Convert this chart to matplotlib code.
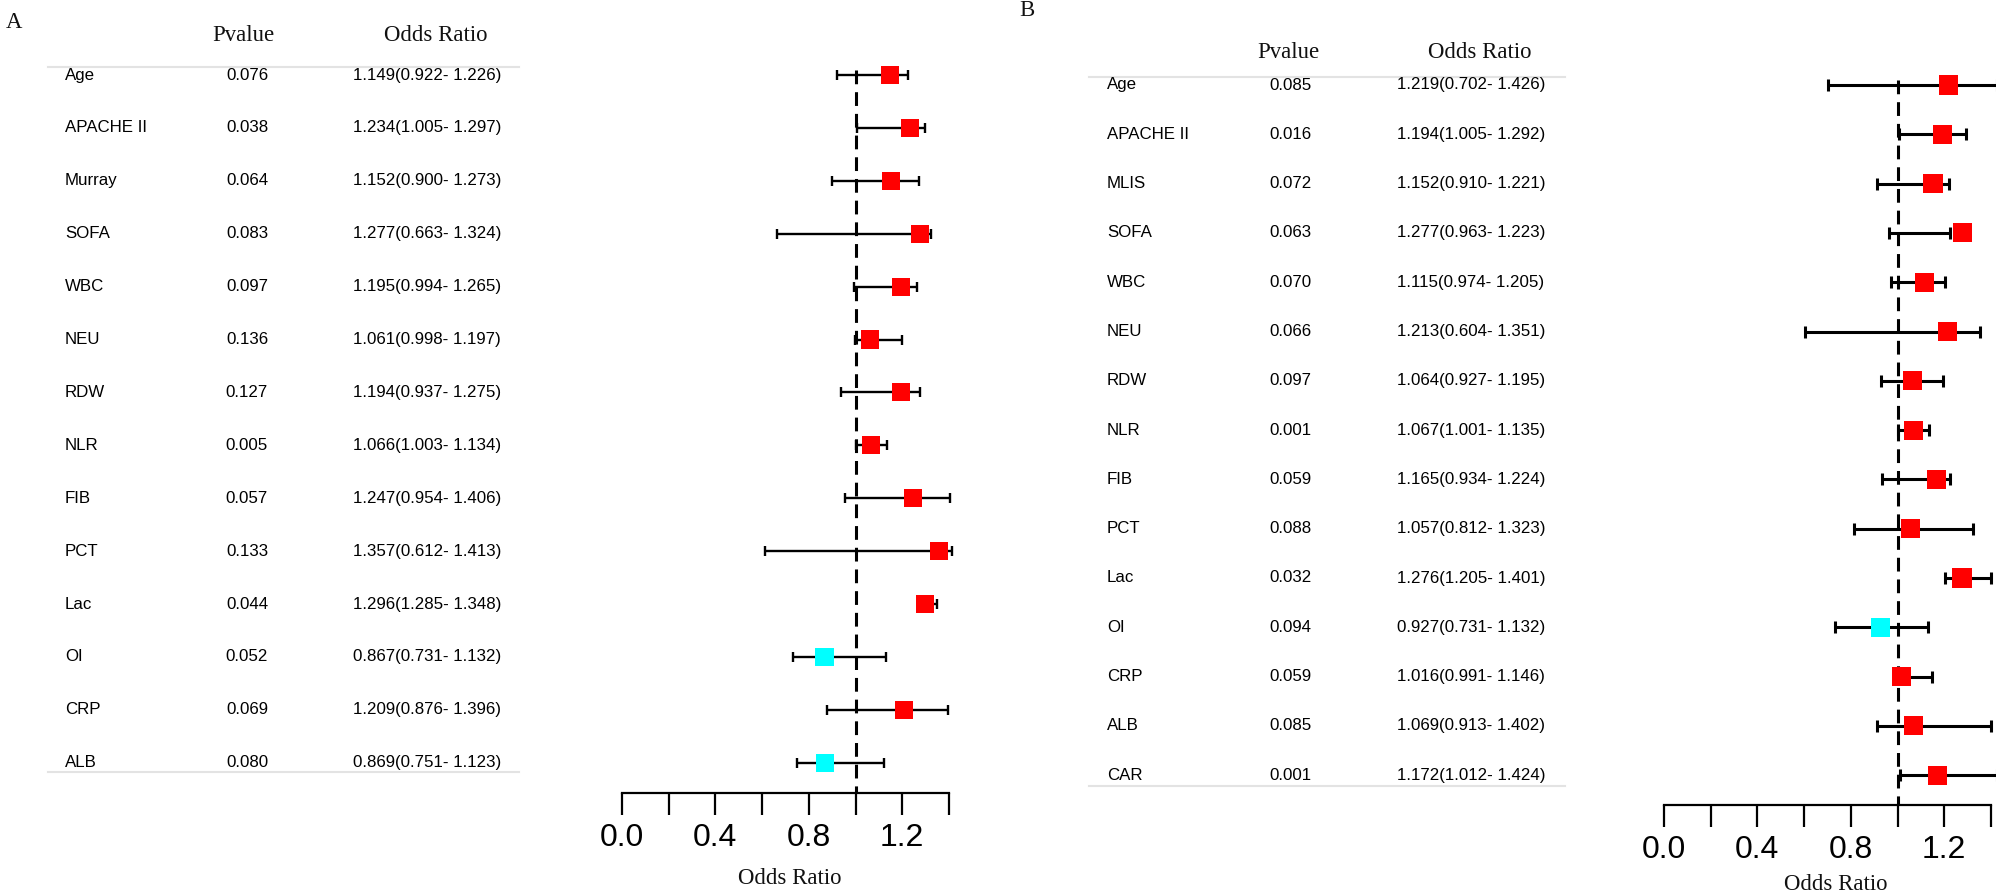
import numpy as np
import matplotlib
matplotlib.use("Agg")
import matplotlib.pyplot as plt
from matplotlib.ticker import FixedLocator
from matplotlib.transforms import blended_transform_factory

# ---------------- data ----------------
A_names = ['Age', 'APACHE II', 'Murray', 'SOFA', 'WBC', 'NEU', 'RDW', 'NLR',
           'FIB', 'PCT', 'Lac', 'OI', 'CRP', 'ALB']
A_p = ['0.076', '0.038', '0.064', '0.083', '0.097', '0.136', '0.127', '0.005',
       '0.057', '0.133', '0.044', '0.052', '0.069', '0.080']
A_or = [1.149, 1.234, 1.152, 1.277, 1.195, 1.061, 1.194, 1.066, 1.247, 1.357,
        1.296, 0.867, 1.209, 0.869]
A_lo = [0.922, 1.005, 0.900, 0.663, 0.994, 0.998, 0.937, 1.003, 0.954, 0.612,
        1.285, 0.731, 0.876, 0.751]
A_hi = [1.226, 1.297, 1.273, 1.324, 1.265, 1.197, 1.275, 1.134, 1.406, 1.413,
        1.348, 1.132, 1.396, 1.123]

B_names = ['Age', 'APACHE II', 'MLIS', 'SOFA', 'WBC', 'NEU', 'RDW', 'NLR',
           'FIB', 'PCT', 'Lac', 'OI', 'CRP', 'ALB', 'CAR']
B_p = ['0.085', '0.016', '0.072', '0.063', '0.070', '0.066', '0.097', '0.001',
       '0.059', '0.088', '0.032', '0.094', '0.059', '0.085', '0.001']
B_or = [1.219, 1.194, 1.152, 1.277, 1.115, 1.213, 1.064, 1.067, 1.165, 1.057,
        1.276, 0.927, 1.016, 1.069, 1.172]
B_lo = [0.702, 1.005, 0.910, 0.963, 0.974, 0.604, 0.927, 1.001, 0.934, 0.812,
        1.205, 0.731, 0.991, 0.913, 1.012]
B_hi = [1.426, 1.292, 1.221, 1.223, 1.205, 1.351, 1.195, 1.135, 1.224, 1.323,
        1.401, 1.132, 1.146, 1.402, 1.424]

tick_major = [0.0, 0.4, 0.8, 1.2]
tick_minor = [0.2, 0.6, 1.0, 1.4]

# ---------------- layout (pixels) ----------------
W, H = 1996, 892
SANS = 'Liberation Sans'
SERIF = 'Liberation Serif'

fig = plt.figure(figsize=(W / 100, H / 100), dpi=100)
fig.patch.set_facecolor('white')


def forest_panel(label, names, pvals, ors, los, his, cfg):
    n = len(names)
    y0, dy = cfg['row0'], cfg['drow']
    ax_bottom = cfg['axis_y']
    ax_top = 30
    x0, x1 = cfg['ax_x0'], cfg['ax_x1']
    ax = fig.add_axes([x0 / W, 1 - ax_bottom / H, (x1 - x0) / W, (ax_bottom - ax_top) / H])
    ax.set_xlim(0, 1.4)
    ax.set_ylim((ax_bottom - y0) / dy, (ax_top - y0) / dy)
    ax.patch.set_alpha(0)
    rows = np.arange(n)
    lw = cfg['ci_lw']

    # reference line at OR = 1
    ax.vlines(1.0, -0.1, (ax_bottom - y0) / dy, colors='black', linewidth=2.2,
              linestyles=(0, (4.5, 2.6)), zorder=1)

    # confidence intervals with end caps
    ax.hlines(rows, los, his, colors='black', linewidth=lw, clip_on=False, zorder=2)
    ax.plot(los, rows, linestyle='none', marker='|', markersize=cfg['cap'],
            markeredgewidth=lw, color='black', clip_on=False, zorder=2)
    ax.plot(his, rows, linestyle='none', marker='|', markersize=cfg['cap'],
            markeredgewidth=lw, color='black', clip_on=False, zorder=2)

    colors = ['#FF0000' if v >= 1 else '#00FFFF' for v in ors]
    ax.scatter(ors, rows, marker='s', s=cfg['box'] ** 2, c=colors, linewidths=0,
               clip_on=False, zorder=3)

    # axis styling
    for s in ['top', 'left', 'right']:
        ax.spines[s].set_visible(False)
    ax.spines['bottom'].set_linewidth(1.6)
    ax.xaxis.set_major_locator(FixedLocator(tick_major))
    ax.xaxis.set_minor_locator(FixedLocator(tick_minor))
    ax.set_xticklabels(['%.1f' % t for t in tick_major])
    ax.tick_params(axis='x', which='both', direction='out', length=15.8, width=1.6,
                   pad=5.5, labelsize=23)
    for t in ax.get_xticklabels():
        t.set_fontfamily(SANS)
    ax.set_yticks([])
    fig.text(cfg['xlabel_x'] / W, 1 - cfg['xlabel_y'] / H, 'Odds Ratio',
             ha='center', va='center', fontsize=16.4, fontfamily=SERIF, color='#111111')

    # table text: x in figure pixels, y in row units
    tr = blended_transform_factory(fig.transFigure, ax.transData)
    hdr_row = (cfg['hdr_y'] - y0) / dy
    for i in range(n):
        ax.text(cfg['name_x'] / W, i, names[i], transform=tr, ha='left', va='center',
                fontsize=12.2, fontfamily=SANS, color='black')
        ax.text(cfg['p_x'] / W, i, pvals[i], transform=tr, ha='center', va='center',
                fontsize=12.2, fontfamily=SANS, color='black')
        ax.text(cfg['or_x'] / W, i, '%.3f(%.3f- %.3f)' % (ors[i], los[i], his[i]),
                transform=tr, ha='left', va='center', fontsize=12.2,
                fontfamily=SANS, color='black')
    ax.text(cfg['p_hdr_x'] / W, hdr_row, 'Pvalue', transform=tr, ha='center',
            va='center', fontsize=16.4, fontfamily=SERIF, color='#111111')
    ax.text(cfg['or_hdr_x'] / W, hdr_row, 'Odds Ratio', transform=tr, ha='center',
            va='center', fontsize=16.4, fontfamily=SERIF, color='#111111')
    for yl in [cfg['line_top'], cfg['line_bot']]:
        ax.plot([cfg['line_x0'] / W, cfg['line_x1'] / W], [(yl - y0) / dy] * 2,
                transform=tr, color='#e3e3e3', linewidth=1.5, clip_on=False)
    fig.text(cfg['lab_x'] / W, 1 - cfg['lab_y'] / H, label, ha='center', va='center',
             fontsize=16.4, fontfamily=SERIF, color='#111111')
    return ax


cfg_A = dict(row0=75, drow=52.9, axis_y=793, ax_x0=622, ax_x1=949,
             xlabel_x=790, xlabel_y=878, ci_lw=1.7, cap=7.0, box=13.0,
             name_x=65, p_x=247, or_x=353, p_hdr_x=243, or_hdr_x=436, hdr_y=35,
             line_top=67, line_bot=772, line_x0=48, line_x1=519,
             lab_x=14, lab_y=23)
cfg_B = dict(row0=85, drow=49.3, axis_y=805, ax_x0=1664, ax_x1=1991,
             xlabel_x=1836, xlabel_y=884, ci_lw=2.2, cap=8.0, box=13.8,
             name_x=1107, p_x=1290, or_x=1397, p_hdr_x=1288, or_hdr_x=1480, hdr_y=52,
             line_top=77, line_bot=786, line_x0=1089, line_x1=1565,
             lab_x=1027, lab_y=10)

forest_panel('A', A_names, A_p, A_or, A_lo, A_hi, cfg_A)
forest_panel('B', B_names, B_p, B_or, B_lo, B_hi, cfg_B)

fig.savefig('out.png', dpi=100, facecolor='white')
